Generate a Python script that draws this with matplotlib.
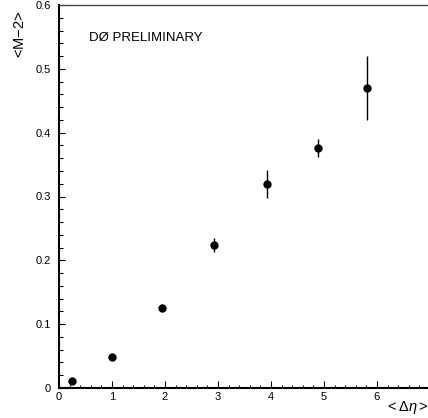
"""
Mean number of extra jets <M-2> versus mean rapidity separation <Delta eta>.
"""
import matplotlib
matplotlib.use('Agg')
import matplotlib.pyplot as plt
from matplotlib.ticker import MultipleLocator, FuncFormatter

# measured points
deta = [0.24, 1.00, 1.95, 2.92, 3.92, 4.88, 5.81]
m_minus_2 = [0.011, 0.049, 0.126, 0.224, 0.319, 0.376, 0.470]
m_err = [0.002, 0.003, 0.005, 0.011, 0.022, 0.014, 0.050]

x_ticks = [0, 1, 2, 3, 4, 5, 6]
y_ticks = [0, 0.1, 0.2, 0.3, 0.4, 0.5, 0.6]

plt.rcParams['font.family'] = ['Liberation Sans', 'DejaVu Sans']
plt.rcParams['mathtext.fontset'] = 'custom'
plt.rcParams['mathtext.rm'] = 'Liberation Sans'
plt.rcParams['mathtext.it'] = 'Liberation Sans:italic'

fig = plt.figure(figsize=(4.28, 4.18), dpi=100)
ax = fig.add_axes([59 / 428, 30 / 418, 371 / 428, 383 / 418])

ax.errorbar(deta, m_minus_2, yerr=m_err, fmt='o', color='black',
            markersize=5, elinewidth=1.0, capsize=0)

ax.set_xlim(0, 7)
ax.set_ylim(0, 0.6)

ax.set_xticks(x_ticks)
ax.set_yticks(y_ticks)
ax.xaxis.set_minor_locator(MultipleLocator(0.2))
ax.yaxis.set_minor_locator(MultipleLocator(0.02))
ax.yaxis.set_major_formatter(FuncFormatter(lambda v, p: '0' if v == 0 else f'{v:.1f}'))

ax.tick_params(which='both', direction='in', labelsize=8, width=0.8)
ax.tick_params(axis='x', which='major', length=5, pad=3)
ax.tick_params(axis='x', which='minor', length=2.5)
ax.tick_params(axis='y', which='major', length=4.5, pad=6)
ax.tick_params(axis='y', which='minor', length=3)
ax.tick_params(top=False, right=False)

ax.spines['right'].set_visible(False)
ax.spines['left'].set_linewidth(1.5)
ax.spines['bottom'].set_linewidth(1.5)
ax.spines['top'].set_linewidth(1.0)
ax.spines['top'].set_color('#444444')

ax.text(0.08, 0.905, 'DØ PRELIMINARY', transform=ax.transAxes, fontsize=9.5)

fig.text(20 / 428, 1 - 34 / 418, r'<M$-$2>', rotation=90, fontsize=10.5,
         ha='center', va='center')
fig.text(407 / 428, 1 - 408 / 418, r'$<\Delta\eta>$', fontsize=10.5,
         ha='center', va='center')

plt.savefig('out.png', dpi=100)
plt.close()
